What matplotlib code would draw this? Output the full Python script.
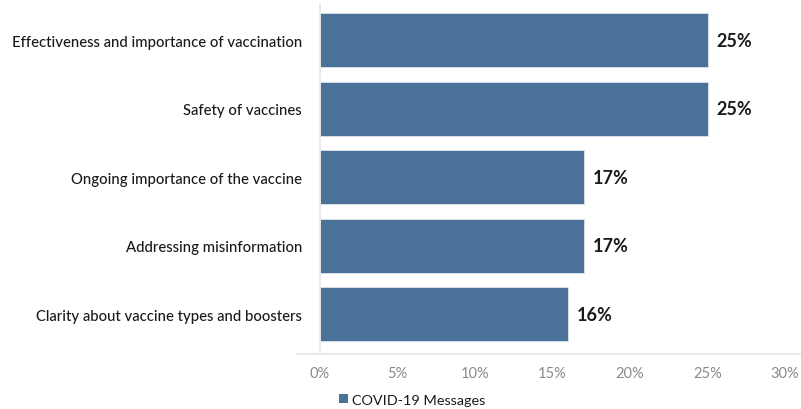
import matplotlib
matplotlib.use("Agg")
import matplotlib.pyplot as plt
from matplotlib.patches import Patch

categories = [
    "Effectiveness and importance of vaccination",
    "Safety of vaccines",
    "Ongoing importance of the vaccine",
    "Addressing misinformation",
    "Clarity about vaccine types and boosters",
]
values = [25, 25, 17, 17, 16]
xticks = [0, 5, 10, 15, 20, 25, 30]
series_name = "COVID-19 Messages"

bar_color = "#4a7198"
plt.rcParams["font.family"] = ["Lato", "DejaVu Sans"]

fig = plt.figure(figsize=(8.01, 4.10), dpi=100)
ax = fig.add_axes([320 / 801, 1 - 355 / 410, 465 / 801, 350 / 410])

ypos = range(len(categories))
ax.barh(ypos, values, height=0.79, color=bar_color, edgecolor="#dce4ec", linewidth=0.6, zorder=2)

for y, v in zip(ypos, values):
    ax.text(v + 0.6, y, f"{v}%", va="center", ha="left",
            fontsize=13, fontweight="bold", color="#1a1a1a")

ax.set_xlim(0, 30)
ax.set_ylim(len(categories) - 0.5 + 0.08, -0.5 - 0.03)
ax.set_yticks(list(ypos))
ax.set_yticklabels(categories, fontsize=10.7, fontweight="medium", color="#1a1a1a")
ax.set_xticks(xticks)
ax.set_xticklabels([f"{t}%" for t in xticks], fontsize=10.5, color="#8a8a8a")
ax.tick_params(axis="y", length=0, pad=13)
ax.tick_params(axis="x", length=0, pad=9)

for side in ["top", "right"]:
    ax.spines[side].set_visible(False)
ax.spines["left"].set_color("#e6e6e6")
ax.spines["left"].set_linewidth(1.2)
ax.spines["bottom"].set_visible(False)
# baseline runs a bit past the left of the plot area
ax.plot([-1.5, 31], [ax.get_ylim()[0]] * 2, color="#e6e6e6", linewidth=1.2,
        clip_on=False, zorder=1)

handle = Patch(facecolor=bar_color, edgecolor="none")
fig.legend([handle], [series_name], loc="center left",
           bbox_to_anchor=(326 / 801, 1 - 401 / 410), frameon=False,
           fontsize=10.4, handlelength=0.6, handleheight=0.6, handletextpad=0.3,
           labelcolor="#1a1a1a")

fig.savefig("out.png", dpi=100)
